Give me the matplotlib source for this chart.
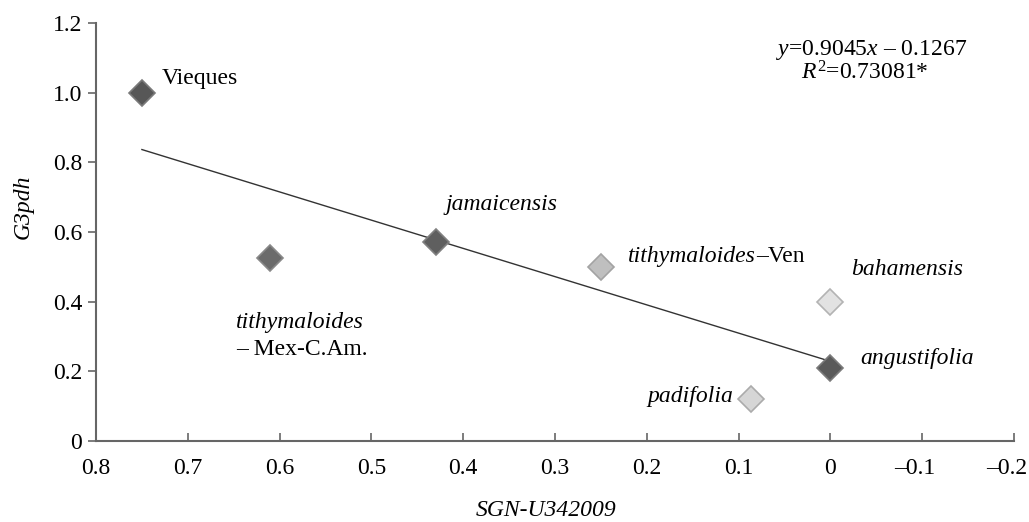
import numpy as np
import matplotlib
matplotlib.use("Agg")
import matplotlib.pyplot as plt
from matplotlib.transforms import ScaledTranslation

plt.rcParams['font.family'] = ['Liberation Serif', 'DejaVu Serif']
plt.rcParams['mathtext.fontset'] = 'custom'
plt.rcParams['mathtext.rm'] = 'Liberation Serif'
plt.rcParams['mathtext.it'] = 'Liberation Serif:italic'

# data
names = ["Vieques", "tithymaloides", "jamaicensis", "tithymaloides", "bahamensis", "angustifolia", "padifolia"]
sgn = [0.75, 0.61, 0.43, 0.25, 0.0, 0.0, 0.087]
g3pdh = [1.0, 0.525, 0.57, 0.50, 0.40, 0.21, 0.12]
fills = ["#575757", "#6b6b6b", "#5f5f5f", "#bfbfbf", "#e2e2e2", "#5a5a5a", "#d6d6d6"]
edges = ["#7a7a7a", "#888888", "#808080", "#a3a3a3", "#b3b3b3", "#7a7a7a", "#ababab"]

xticks = [0.8, 0.7, 0.6, 0.5, 0.4, 0.3, 0.2, 0.1, 0.0, -0.1, -0.2]
xticklabels = ["0.8", "0.7", "0.6", "0.5", "0.4", "0.3", "0.2", "0.1", "0", "\u20130.1", "\u20130.2"]
yticks = [0, 0.2, 0.4, 0.6, 0.8, 1.0, 1.2]
yticklabels = ["0", "0.2", "0.4", "0.6", "0.8", "1.0", "1.2"]

fig = plt.figure(figsize=(10.29, 5.22), dpi=100)
ax = fig.add_axes([0.0933, 0.1552, 0.8921, 0.8007])

# trend line over the data range
k, b = np.polyfit(sgn, g3pdh, 1)
xs = np.array([max(sgn), min(sgn)])
ax.plot(xs, k * xs + b, color="#333333", lw=1.0, zorder=2)

for x, y, fc, ec in zip(sgn, g3pdh, fills, edges):
    ax.plot(x, y, marker="D", ms=13.5, mfc=fc, mec=ec, mew=1.2, ls="none", zorder=3)

fs = 17
ax.text(0.728, 1.042, "Vieques", fontsize=fs, va="center")
ax.text(0.6475, 0.341, "tithymaloides", fontsize=fs, style="italic", va="center")
ax.text(0.6475, 0.262, "\u2013 Mex-C.Am.", fontsize=fs, va="center")
ax.text(0.419, 0.678, "jamaicensis", fontsize=fs, style="italic", va="center")
t = ax.text(0.2205, 0.531, "tithymaloides", fontsize=fs, style="italic", va="center")
ax.annotate("\u2013Ven", xy=(1, 0.5), xycoords=t, fontsize=fs, va="center")
ax.text(-0.0225, 0.491, "bahamensis", fontsize=fs, style="italic", va="center")
ax.text(-0.0323, 0.238, "angustifolia", fontsize=fs, style="italic", va="center")
ax.text(0.106, 0.129, "padifolia", fontsize=fs, style="italic", va="center", ha="right")

ax.text(-0.045, 1.1226, "$y$=0.9045$x$ \u2013 0.1267", fontsize=fs, ha="center", va="center")
ax.text(-0.038, 1.058, "$R^2$=0.73081*", fontsize=fs, ha="center", va="center")

ax.set_xlim(0.8, -0.2)
ax.set_ylim(0, 1.2)
ax.set_xticks(xticks)
ax.set_xticklabels(xticklabels)
ax.set_yticks(yticks)
ax.set_yticklabels(yticklabels)
ax.tick_params(axis="x", direction="in", length=6, width=1.2, color="#666666", labelsize=fs, pad=12)
ax.tick_params(axis="y", direction="out", length=6, width=1.2, color="#666666", labelsize=fs, pad=4)

# negative labels sit a little left of their ticks in the original
for lab in ax.get_xticklabels()[-2:]:
    lab.set_transform(lab.get_transform() + ScaledTranslation(-7 / 100, 0, fig.dpi_scale_trans))

for s in ["top", "right"]:
    ax.spines[s].set_visible(False)
for s in ["left", "bottom"]:
    ax.spines[s].set_color("#666666")
    ax.spines[s].set_linewidth(1.5)

ax.set_xlabel("SGN-U342009", fontsize=fs, style="italic", va="center")
ax.xaxis.set_label_coords(0.49, -0.1675)
ax.set_ylabel("G3pdh", fontsize=fs, style="italic", va="center")
ax.yaxis.set_label_coords(-0.0795, 0.56)

fig.savefig("out.png", dpi=100)
